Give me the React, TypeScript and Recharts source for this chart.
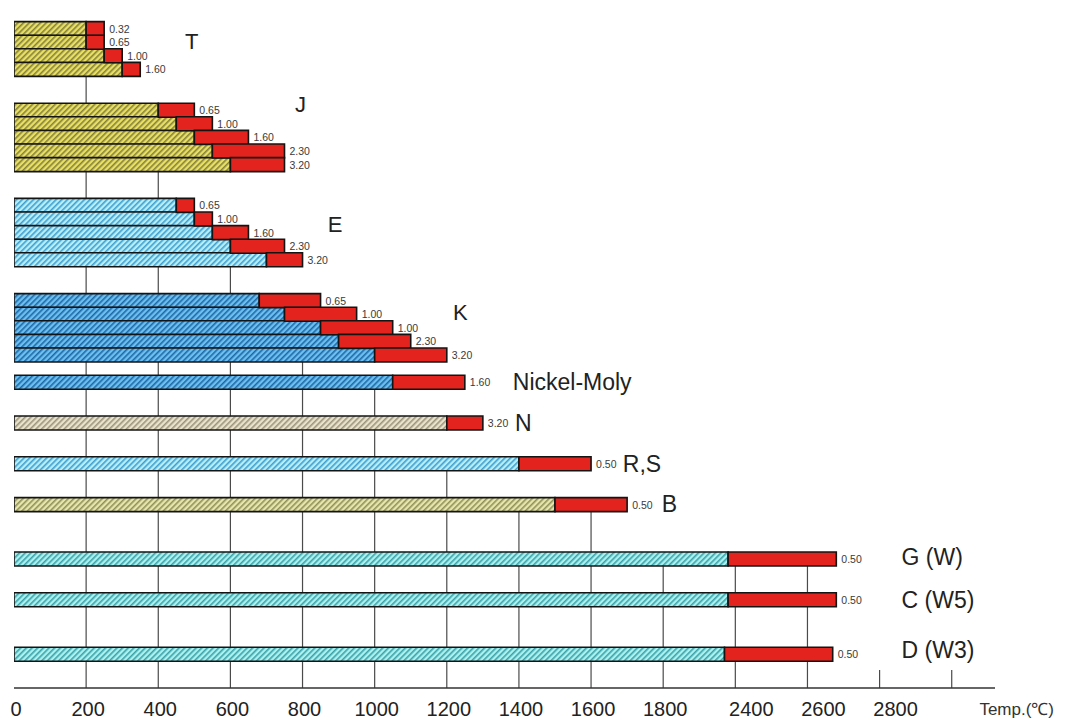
import { BarChart, Bar, XAxis, YAxis, Cell, LabelList, ReferenceArea, ReferenceDot } from "recharts";

// thermocouple types, top to bottom
const GROUPS = ["T", "J", "E", "K", "Nickel-Moly", "N", "R,S", "B", "G (W)", "C (W5)", "D (W3)"];
// wire diameter (mm) printed after each bar
const DIAMETERS = [
  ["0.32", "0.65", "1.00", "1.60"],
  ["0.65", "1.00", "1.60", "2.30", "3.20"],
  ["0.65", "1.00", "1.60", "2.30", "3.20"],
  ["0.65", "1.00", "1.00", "2.30", "3.20"],
  ["1.60"],
  ["3.20"],
  ["0.50"],
  ["0.50"],
  ["0.50"],
  ["0.50"],
  ["0.50"],
];
// normal use limit, °C (hatched part)
const NORMAL_LIMIT = [
  [200, 200, 250, 300],
  [400, 450, 500, 550, 600],
  [450, 500, 550, 600, 700],
  [680, 750, 850, 900, 1000],
  [1050],
  [1200],
  [1400],
  [1500],
  [2380],
  [2380],
  [2370],
];
// short-term limit, °C (red part ends here)
const MAX_LIMIT = [
  [250, 250, 300, 350],
  [500, 550, 650, 750, 750],
  [500, 550, 650, 750, 800],
  [850, 950, 1050, 1100, 1200],
  [1250],
  [1300],
  [1600],
  [1700],
  [2680],
  [2680],
  [2670],
];
// the axis skips 2000..2400 °C, so ticks are in axis units
const TICK_VALUES = [0, 200, 400, 600, 800, 1000, 1200, 1400, 1600, 1800, 2000, 2200, 2400, 2600];
const TICK_LABELS = ["0", "200", "400", "600", "800", "1000", "1200", "1400", "1600", "1800", "2400", "2600", "2800", ""];
const AXIS_TITLE = "Temp.(℃)";

const toAxis = (t: number) => (t > 2000 ? t - 400 : t);

// ---- layout / style ----
const W = 1067;
const H = 724;
const FONT = "'Liberation Sans', Arial, sans-serif";
const RED = "#e3231d";
const EDGE = "#141414";
const GAP_BEFORE = [1, 2, 2, 2, 1, 2, 2, 2, 3, 2, 3];
const GAP_AFTER = 2;
const HATCH = ["yellow", "yellow", "cyan", "blue", "blue", "beige", "cyan", "pale", "teal", "teal", "teal"];
const PATTERNS: Record<string, [string, string]> = {
  yellow: ["#e8e062", "#86803e"],
  cyan: ["#b6eef9", "#3f9fcf"],
  blue: ["#6cc0ef", "#1f68a8"],
  beige: ["#eae3cb", "#9c947c"],
  pale: ["#e6e6ab", "#90905a"],
  teal: ["#aaf1ef", "#3ca2aa"],
};
// group below which each gridline shows ("" = short tick only)
const GRID_FROM = ["", "T", "J", "E", "K", "Nickel-Moly", "R,S", "B", "B", "G (W)", "G (W)", "G (W)", "", ""];
// group title: x in axis units, row within group, dy, font size
const TITLE_AT: [number, number, number, number][] = [
  [474, 1, -1, 22],
  [779, 0, -6, 22],
  [870, 1, 6, 22],
  [1217, 1, -2, 22],
  [1383, 0, 0, 23],
  [1389, 0, 0, 23],
  [1688, 0, 0, 23],
  [1796, 0, 0, 23],
  [2461, 0, -2, 23],
  [2461, 0, 0, 23],
  [2461, 0, -4, 23],
];

type Row = { key: string; group?: number; dia?: string; normal?: number; extra?: number };

const rows: Row[] = [];
let gapNo = 0;
GROUPS.forEach((g, gi) => {
  for (let i = 0; i < GAP_BEFORE[gi]; i++) rows.push({ key: `gap-${gapNo++}` });
  DIAMETERS[gi].forEach((d, ri) => {
    const lo = toAxis(NORMAL_LIMIT[gi][ri]);
    const hi = toAxis(MAX_LIMIT[gi][ri]);
    rows.push({ key: `${g}-${ri}`, group: gi, dia: d, normal: lo, extra: hi - lo });
  });
});
for (let i = 0; i < GAP_AFTER; i++) rows.push({ key: `gap-${gapNo++}` });

const lastRowOf = (g: string) => `${g}-${DIAMETERS[GROUPS.indexOf(g)].length - 1}`;

function DiaLabel(p: any) {
  if (!p.value) return null;
  return (
    <text x={+p.x + +p.width + 5} y={+p.y + +p.height / 2} dominantBaseline="central" fontSize={10.5} fill="#3a3a3a" fontFamily={FONT}>
      {p.value}
    </text>
  );
}

function AxisTick(props: any) {
  const { x, y, payload } = props;
  const i = TICK_VALUES.indexOf(payload.value);
  const label = TICK_LABELS[i];
  return (
    <g>
      {label ? (
        <text x={x + (payload.value > 1800 ? 16 : 2)} y={y + 28} textAnchor="middle" fontSize={20} fill="#222" fontFamily={FONT}>
          {label}
        </text>
      ) : null}
      {i === TICK_VALUES.length - 1 ? (
        <text x={x + 65} y={y + 27} textAnchor="middle" fontSize={17} fill="#333" fontFamily={FONT}>
          {AXIS_TITLE}
        </text>
      ) : null}
    </g>
  );
}

const gridLine = (short: boolean) => (p: any) => {
  const bottom = p.y + p.height;
  return <line x1={p.x} x2={p.x} y1={short ? bottom - 18 : p.y} y2={bottom} stroke="#4a4a4a" strokeWidth={1.2} />;
};

export default function App() {
  return (
    <div style={{ position: "absolute", left: 0, top: 0, width: W, height: H, background: "#fff" }}>
      <BarChart
        layout="vertical"
        width={W}
        height={H}
        data={rows}
        barCategoryGap={0}
        margin={{ top: 8, right: 72, bottom: 0, left: 14 }}
      >
        <defs>
          {Object.entries(PATTERNS).map(([name, [bg, fg]]) => (
            <pattern key={name} id={`hatch-${name}`} patternUnits="userSpaceOnUse" width={4} height={4} patternTransform="rotate(45)">
              <rect width={4} height={4} fill={bg} />
              <rect width={1.6} height={4} fill={fg} />
            </pattern>
          ))}
        </defs>
        <XAxis
          type="number"
          domain={[0, 2720]}
          ticks={TICK_VALUES}
          interval={0}
          height={36}
          tickSize={0}
          tickMargin={0}
          tickLine={false}
          tick={AxisTick}
          axisLine={{ stroke: "#333", strokeWidth: 1.5 }}
          allowDataOverflow
        />
        <YAxis type="category" dataKey="key" width={0} tick={false} tickLine={false} axisLine={{ stroke: "#111", strokeWidth: 3 }} />
        {TICK_VALUES.map((v, i) =>
          i === 0 ? null : (
            <ReferenceArea
              key={`grid-${v}`}
              x1={v}
              x2={v}
              y1={GRID_FROM[i] ? lastRowOf(GRID_FROM[i]) : undefined}
              shape={gridLine(!GRID_FROM[i])}
              ifOverflow="visible"
            />
          )
        )}
        <Bar dataKey="normal" stackId="t" stroke={EDGE} strokeWidth={1.6} isAnimationActive={false}>
          {rows.map((r) => (
            <Cell key={r.key} fill={r.group == null ? "none" : `url(#hatch-${HATCH[r.group]})`} />
          ))}
        </Bar>
        <Bar dataKey="extra" stackId="t" fill={RED} stroke={EDGE} strokeWidth={1.6} isAnimationActive={false}>
          <LabelList dataKey="dia" content={DiaLabel} />
        </Bar>
        {GROUPS.map((g, gi) => {
          const [at, row, dy, size] = TITLE_AT[gi];
          return (
            <ReferenceDot
              key={`title-${g}`}
              x={at}
              y={`${g}-${row}`}
              ifOverflow="visible"
              shape={(p: any) => (
                <text x={p.cx} y={p.cy + dy} dominantBaseline="central" fontSize={size} fill="#222" fontFamily={FONT}>
                  {g}
                </text>
              )}
            />
          );
        })}
      </BarChart>
    </div>
  );
}
